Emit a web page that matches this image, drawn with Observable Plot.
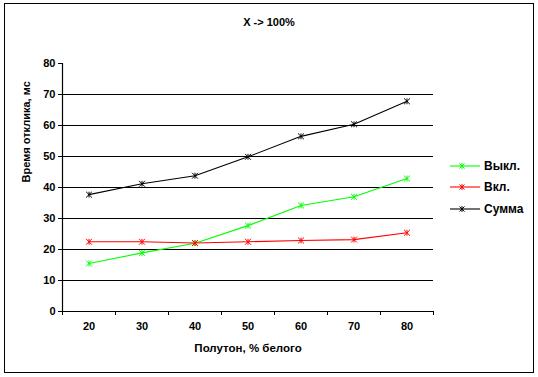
<!DOCTYPE html>
<html><head><meta charset="utf-8">
<script src="https://cdn.jsdelivr.net/npm/d3@7"></script>
<script src="https://cdn.jsdelivr.net/npm/@observablehq/plot@0.6"></script>
<style>
body{margin:0;background:#fff;font-family:"Liberation Sans",Arial,sans-serif;}
#wrap{position:relative;width:538px;height:377px;overflow:hidden;}
#frame{position:absolute;left:4px;top:3px;width:528px;height:368px;border:1px solid #000;pointer-events:none;}
#title{position:absolute;left:0;width:538px;top:16px;text-align:center;font-size:11px;font-weight:bold;}
.leg{position:absolute;left:450px;height:14px;font-size:12px;font-weight:bold;display:flex;align-items:center;}
.leg svg{margin-right:2px;}
#chart{position:absolute;left:0;top:0;}
</style></head>
<body><div id="wrap"><div id="chart"></div><div id="title"></div><div id="legend"></div><div id="frame"></div></div>
<script>
const title = "X -> 100%";
const xLabel = "Полутон, % белого";
const yLabel = "Время отклика, мс";
const categories = [20, 30, 40, 50, 60, 70, 80];
const seriesNames = ["Выкл.", "Вкл.", "Сумма"];
const seriesColors = ["#00ff00", "#ff0000", "#000000"];
const vykl = [15.5, 18.9, 22.0, 27.7, 34.2, 37.0, 42.9];
const vkl = [22.5, 22.5, 22.1, 22.5, 22.9, 23.2, 25.4];
const summa = [37.7, 41.2, 43.8, 49.9, 56.5, 60.4, 67.8];
const yTicks = [0, 10, 20, 30, 40, 50, 60, 70, 80];
const gridLines = [10, 20, 30, 40, 50, 60, 70];
const xEdges = [15, 25, 35, 45, 55, 65, 75, 85];

const allSeries = [vykl, vkl, summa];
const data = [];
allSeries.forEach((vals, si) => vals.forEach((v, i) => data.push({x: categories[i], y: v, s: seriesNames[si]})));

const star = {
  draw(ctx, size) {
    const r = Math.sqrt(size) / 2;
    ctx.moveTo(-r, -r); ctx.lineTo(r, r);
    ctx.moveTo(r, -r); ctx.lineTo(-r, r);
    ctx.moveTo(0, -r); ctx.lineTo(0, r);
  }
};

const font = "'Liberation Sans', Arial, sans-serif";
const plot = Plot.plot({
  width: 538, height: 377,
  marginLeft: 62, marginRight: 105, marginTop: 63, marginBottom: 66,
  style: {fontFamily: font, fontSize: "11px", fontWeight: "bold", color: "#000", background: "transparent"},
  x: {domain: [15, 85], axis: null},
  y: {domain: [0, 80], axis: null},
  color: {domain: seriesNames, range: seriesColors},
  marks: [
    Plot.ruleY(gridLines, {stroke: "#000", strokeWidth: 1.2}),
    Plot.ruleY([0], {stroke: "#000", strokeWidth: 1.2}),
    Plot.ruleX([15], {stroke: "#000", strokeWidth: 1.2}),
    Plot.axisY({ticks: yTicks, tickSize: 4, tickPadding: 3, label: null, stroke: "#000", fontSize: 11}),
    Plot.axisX({ticks: xEdges, tickSize: 4, tickFormat: () => "", label: null, stroke: "#000"}),
    Plot.axisX({ticks: categories, tickSize: 0, tickPadding: 11, label: null, fontSize: 11}),
    Plot.line(data, {x: "x", y: "y", z: "s", stroke: "s", strokeWidth: 1.1}),
    Plot.dot(data, {x: "x", y: "y", stroke: "s", symbol: star, r: 3.3, strokeWidth: 1}),
    Plot.text([xLabel], {frameAnchor: "bottom", dy: 40, fontSize: 11.5, fontWeight: "bold"}),
    Plot.text([yLabel], {frameAnchor: "left", dx: -36, dy: -5, rotate: -90, fontSize: 11, fontWeight: "bold"})
  ]
});
document.getElementById("chart").appendChild(plot);
document.getElementById("title").textContent = title;

const legend = document.getElementById("legend");
const rowTops = [159, 180, 202];
seriesNames.forEach((name, i) => {
  const row = document.createElement("div");
  row.className = "leg";
  row.style.top = rowTops[i] + "px";
  const c = seriesColors[i];
  row.innerHTML = `<svg width="32" height="14"><line x1="0" x2="30" y1="7" y2="7" stroke="${c}" stroke-width="1.1"/>` +
    `<path d="M9.5,4.5L14.5,9.5M14.5,4.5L9.5,9.5M12,4L12,10" stroke="${c}" fill="none"/></svg>`;
  const sp = document.createElement("span");
  sp.textContent = name;
  row.appendChild(sp);
  legend.appendChild(row);
});
</script></body></html>
